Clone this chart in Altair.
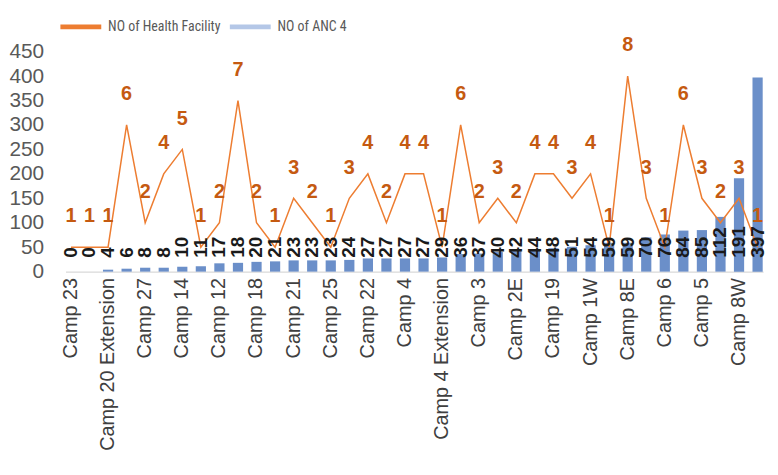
import altair as alt
import pandas as pd

cats = [
    "Camp 23", "Camp 24", "Camp 20 Extension", "Nayapara RC", "Camp 27", "Camp 26",
    "Camp 14", "Kutupalong RC", "Camp 12", "Camp 20", "Camp 18", "Camp 16",
    "Camp 21", "Camp 7", "Camp 25", "Camp 2W", "Camp 22", "Camp 1E",
    "Camp 4", "Camp 9", "Camp 4 Extension", "Camp 10", "Camp 3", "Camp 11",
    "Camp 2E", "Camp 13", "Camp 19", "Camp 15", "Camp 1W", "Camp 17",
    "Camp 8E", "Camp 21 Extension", "Camp 6", "Camp 22 Extension", "Camp 5",
    "Camp 26 Extension", "Camp 8W", "Camp 24 Extension",
]
anc4 = [0, 0, 4, 6, 8, 8, 10, 11, 17, 18, 20, 21, 23, 23, 23, 24, 27, 27, 27,
        27, 29, 36, 37, 40, 42, 44, 48, 51, 54, 59, 59, 70, 76, 84, 85, 112, 191, 397]
facility = [1, 1, 1, 6, 2, 4, 5, 1, 2, 7, 2, 1, 3, 2, 1, 3, 4, 2, 4,
            4, 1, 6, 2, 3, 2, 4, 4, 3, 4, 1, 8, 3, 1, 6, 3, 2, 3, 1]
shown_labels = cats[0::2]
y_ticks = [0, 50, 100, 150, 200, 250, 300, 350, 400, 450]
series_names = ["NO of Health Facility", "NO of ANC 4"]

df = pd.DataFrame({"camp": cats, "anc": anc4, "fac": facility})

W, H = 704, 222
FONT = "Liberation Sans"
NARROW = "Liberation Sans Narrow, Roboto Condensed, Liberation Sans"

x_enc = alt.X(
    "camp:N",
    sort=cats,
    scale=alt.Scale(paddingInner=0.45, paddingOuter=0.02),
    axis=alt.Axis(
        title=None, values=shown_labels, labelAngle=270, labelFontSize=20,
        labelColor="#404040", labelFont=FONT, ticks=False, domainColor="#d9d9d9",
        domainWidth=1.5, labelPadding=6, labelLimit=250, labelOverlap=False,
    ),
)
y_scale = alt.Scale(domain=[0, 450], nice=False)
y_axis = alt.Axis(
    title=None, values=y_ticks, grid=False, domain=False, ticks=False,
    labelFontSize=21, labelColor="#595959", labelFont=FONT, labelPadding=22,
    labelOverlap=False,
)

base = alt.Chart(df)

bars = base.mark_bar(color="#6B8FC9").encode(
    x=x_enc,
    y=alt.Y("anc:Q", scale=y_scale, axis=y_axis),
)

line = base.transform_calculate(
    fy="datum.fac * 50", series="'NO of Health Facility'"
).mark_line(strokeWidth=1.5).encode(
    x=x_enc,
    y=alt.Y("fy:Q", scale=y_scale, axis=y_axis),
    color=alt.Color(
        "series:N",
        scale=alt.Scale(domain=series_names, range=["#ED7D31", "#B4C7E7"]),
        legend=alt.Legend(
            title=None, orient="none", legendX=-8, legendY=-34, direction="horizontal",
            symbolType="stroke", symbolStrokeWidth=5, symbolSize=1700, clipHeight=18,
            labelFontSize=14, labelColor="#595959", labelFont=NARROW, columnPadding=6,
        ),
    ),
)

line_labels = base.transform_calculate(fy="datum.fac * 50").mark_text(
    dy=-31, fontSize=20, fontWeight="bold", color="#C55A11", font=FONT
).encode(
    x=x_enc,
    y=alt.Y("fy:Q", scale=y_scale, axis=y_axis),
    text="fac:Q",
)

bar_labels = base.mark_text(
    angle=270, align="left", baseline="middle", fontSize=19, fontWeight="bold",
    color="#1a1a1a", font=FONT
).encode(
    x=x_enc,
    y=alt.value(H - 14),
    text="anc:Q",
)

chart = alt.layer(bars, line, bar_labels, line_labels).properties(
    width=W, height=H,
    padding={"top": 8, "left": 0, "right": 2, "bottom": 2},
).configure_view(stroke=None)

chart.save("out.html", embed_options={"renderer": "svg", "actions": False})
